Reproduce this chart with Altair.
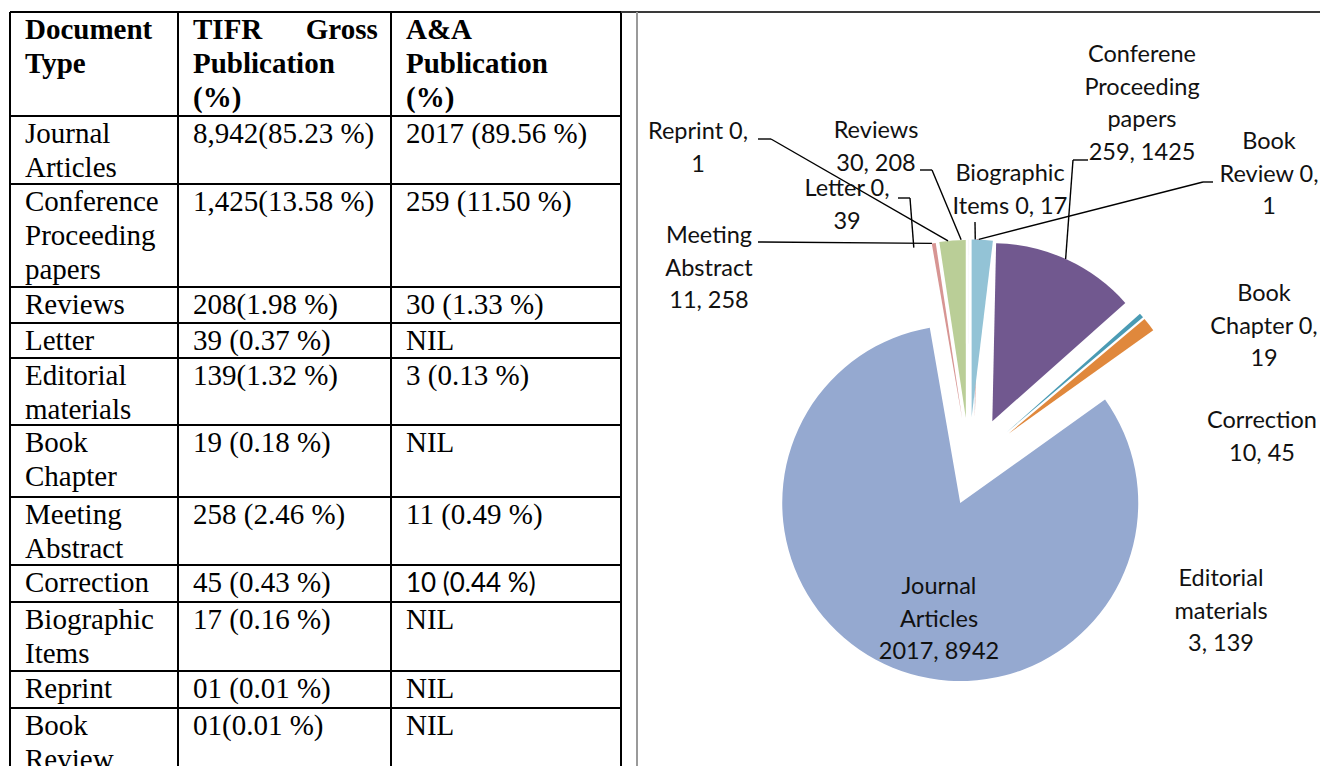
import altair as alt
import pandas as pd

# ---------------- data ----------------
# table (as printed)
doc_types = ["Journal Articles", "Conference Proceeding papers", "Reviews", "Letter",
             "Editorial materials", "Book Chapter", "Meeting Abstract", "Correction",
             "Biographic Items", "Reprint", "Book Review"]
tifr_text = ["8,942(85.23 %)", "1,425(13.58 %)", "208(1.98 %)", "39 (0.37 %)", "139(1.32 %)",
             "19 (0.18 %)", "258 (2.46 %)", "45 (0.43 %)", "17 (0.16 %)", "01 (0.01 %)",
             "01(0.01 %)"]
aa_text = ["2017 (89.56 %)", "259 (11.50 %)", "30 (1.33 %)", "NIL", "3 (0.13 %)", "NIL",
           "11 (0.49 %)", "10 (0.44 %)", "NIL", "NIL", "NIL"]
header_lines = [["Document", "Type"], ["TIFR Gross", "Publication", "(%)"],
                ["A&A", "Publication", "(%)"]]

# pie (chart order)
pie_cats = ["Biographic Items", "Book Chapter", "Book Review", "Conferene Proceeding papers",
            "Correction", "Editorial materials", "Journal Articles", "Letter",
            "Meeting Abstract", "Reprint", "Reviews"]
pie_tifr = [17, 19, 1, 1425, 45, 139, 8942, 39, 258, 1, 208]
pie_aa = [0, 0, 0, 259, 10, 3, 2017, 0, 11, 0, 30]
pie_colors = ["#4A76AD", "#C0504D", "#9BBB59", "#71588F", "#4A9BB4", "#E0883C",
              "#95A9D0", "#D79593", "#BACE97", "#A99BBD", "#93C3D6"]

# ---------------- layout ----------------
X0, X1 = 8, 1320
Y0, Y1 = 8, 766
xs = alt.Scale(domain=[X0, X1], nice=False, zero=False)
ys = alt.Scale(domain=[Y0, Y1], nice=False, zero=False, reverse=True)

col_x = [10, 178, 391, 621]
row_tops = [12, 116, 184, 287, 323, 358, 425, 497, 565, 602, 671, 708, 800]
TXT_PAD_X, TXT_BASE = 15, 26.5
SERIF, SANS = "Liberation Serif", "Lato"

PIE_CX, PIE_CY, EXPLODE, RADIUS = 974.2, 461.3, 44, 178

# label layout: centre x, first-line centre y, words per line
label_layout = {
    "Biographic Items": (1010, 173, [1, 3]),
    "Book Chapter": (1264, 293, [1, 2, 1]),
    "Book Review": (1269, 141, [1, 2, 1]),
    "Conferene Proceeding papers": (1142, 54, [1, 1, 1, 2]),
    "Correction": (1262, 420, [1, 2]),
    "Editorial materials": (1221, 578, [1, 1, 2]),
    "Journal Articles": (939, 586, [1, 1, 2]),
    "Letter": (847, 188, [2, 1]),
    "Meeting Abstract": (709, 235, [1, 1, 2]),
    "Reprint": (698, 131, [2, 1]),
    "Reviews": (876, 130, [1, 2]),
}
# leader line: stub start x, elbow x, elbow y
leader_layout = {
    "Reprint": (758, 771, 139),
    "Meeting Abstract": (758, 758, 242),
    "Letter": (898, 910, 198),
    "Reviews": (920, 932, 170),
    "Biographic Items": (975, 975, 222),
    "Book Review": (1213, 1203, 182),
    "Conferene Proceeding papers": (1088, 1073, 160),
}
LBL_LH = 32.5

# ---------------- tables for the library ----------------
rows = []
for i, cat in enumerate(pie_cats):
    words = cat.split(" ") + [f"{pie_aa[i]},", f"{pie_tifr[i]}"]
    lx, ly, per = label_layout[cat]
    lines, k = [], 0
    for n in per:
        lines.append(" ".join(words[k:k + n]))
        k += n
    lead = leader_layout.get(cat)
    rows.append({
        "order": i, "cat": cat, "tifr": pie_tifr[i], "aa": pie_aa[i],
        "label": "\n".join(lines), "lx": lx, "ly": ly + 8,
        "sx": lead[0] if lead else None, "ex": lead[1] if lead else None,
        "ey": lead[2] if lead else None,
    })
pie_df = pd.DataFrame(rows)

base = alt.Chart(pie_df).transform_window(
    cum="sum(tifr)", sort=[alt.SortField("order")], frame=[None, 0]
).transform_joinaggregate(total="sum(tifr)").transform_calculate(
    start="datum.cum - datum.tifr",
    mid="(datum.cum - datum.tifr / 2) / datum.total * 2 * PI",
).transform_calculate(
    cx=f"{PIE_CX} + {EXPLODE} * sin(datum.mid)",
    cy=f"{PIE_CY} - {EXPLODE} * cos(datum.mid)",
    px=f"{PIE_CX} + {EXPLODE + RADIUS} * sin(datum.mid)",
    py=f"{PIE_CY} - {EXPLODE + RADIUS} * cos(datum.mid)",
)

arcs = base.mark_arc(outerRadius=RADIUS).encode(
    x=alt.X("cx:Q", scale=xs, axis=None),
    y=alt.Y("cy:Q", scale=ys, axis=None),
    theta=alt.Theta("start:Q"),
    theta2=alt.Theta2("cum:Q"),
    color=alt.Color("cat:N", scale=alt.Scale(domain=pie_cats, range=pie_colors), legend=None),
)

leaders = base.transform_filter("isValid(datum.ex)").mark_rule(
    color="black", strokeWidth=1.4
).encode(
    x=alt.X("ex:Q", scale=xs, axis=None), y=alt.Y("ey:Q", scale=ys, axis=None),
    x2="px:Q", y2="py:Q",
)
stubs = base.transform_filter("isValid(datum.ex)").mark_rule(
    color="black", strokeWidth=1.4
).encode(
    x=alt.X("sx:Q", scale=xs, axis=None), x2="ex:Q",
    y=alt.Y("ey:Q", scale=ys, axis=None),
)
labels = base.mark_text(
    font=SANS, fontSize=23.5, lineBreak="\n", lineHeight=LBL_LH,
    align="center", baseline="alphabetic", color="#111111",
).encode(
    x=alt.X("lx:Q", scale=xs, axis=None), y=alt.Y("ly:Q", scale=ys, axis=None),
    text="label:N",
)

# table cells
cells = []
for i in range(len(doc_types)):
    top = row_tops[i + 1]
    vals = [doc_types[i].replace(" ", "\n"), tifr_text[i], aa_text[i]]
    for j, v in enumerate(vals):
        cells.append({"x": col_x[j] + TXT_PAD_X, "y": top + TXT_BASE, "text": v,
                      "sans": (doc_types[i] == "Correction" and j == 2)})
cell_df = pd.DataFrame(cells)

hdr = []
for j, lines in enumerate(header_lines):
    lines = [l.replace(" ", "\u00a0" * 6) if j == 1 and k == 0 else l
             for k, l in enumerate(lines)]
    hdr.append({"x": col_x[j] + TXT_PAD_X, "y": row_tops[0] + TXT_BASE,
                "text": "\n".join(lines)})
hdr_df = pd.DataFrame(hdr)

txt_enc = dict(x=alt.X("x:Q", scale=xs, axis=None), y=alt.Y("y:Q", scale=ys, axis=None),
               text="text:N")
body_txt = alt.Chart(cell_df).transform_filter("!datum.sans").mark_text(
    font=SERIF, fontSize=29, lineBreak="\n", lineHeight=34, align="left",
    baseline="alphabetic", color="black").encode(**txt_enc)
sans_txt = alt.Chart(cell_df).transform_filter("datum.sans").mark_text(
    font=SANS, fontSize=26, align="left", baseline="alphabetic", color="black"
).encode(**txt_enc)
head_txt = alt.Chart(hdr_df).mark_text(
    font=SERIF, fontSize=29, fontWeight="bold", lineBreak="\n", lineHeight=34,
    align="left", baseline="alphabetic", color="black").encode(**txt_enc)

# table grid
h_df = pd.DataFrame({"y": row_tops[:-1], "x1": col_x[0], "x2": col_x[-1]})
v_df = pd.DataFrame({"x": col_x, "y1": row_tops[0], "y2": row_tops[-1]})
hlines = alt.Chart(h_df).mark_rule(color="black", strokeWidth=2).encode(
    x=alt.X("x1:Q", scale=xs, axis=None), x2="x2:Q", y=alt.Y("y:Q", scale=ys, axis=None))
vlines = alt.Chart(v_df).mark_rule(color="black", strokeWidth=2).encode(
    x=alt.X("x:Q", scale=xs, axis=None), y=alt.Y("y1:Q", scale=ys, axis=None), y2="y2:Q")

# chart frame
frame_h = pd.DataFrame({"x1": [621], "x2": [1330], "y": [12]})
frame_v = pd.DataFrame({"x": [637], "y1": [12], "y2": [800]})
fh = alt.Chart(frame_h).mark_rule(color="#3a3a3a", strokeWidth=2).encode(
    x=alt.X("x1:Q", scale=xs, axis=None), x2="x2:Q", y=alt.Y("y:Q", scale=ys, axis=None))
fv = alt.Chart(frame_v).mark_rule(color="#9a9a9a", strokeWidth=2).encode(
    x=alt.X("x:Q", scale=xs, axis=None), y=alt.Y("y1:Q", scale=ys, axis=None), y2="y2:Q")

chart = alt.layer(
    hlines, vlines, fh, fv, body_txt, sans_txt, head_txt, arcs, stubs, leaders, labels
).properties(
    width=X1 - X0, height=Y1 - Y0, padding=0,
    autosize=alt.AutoSizeParams(type="none"),
    background="white",
).configure_view(stroke=None)

chart.save("out.html", embed_options={"renderer": "svg", "actions": False})
